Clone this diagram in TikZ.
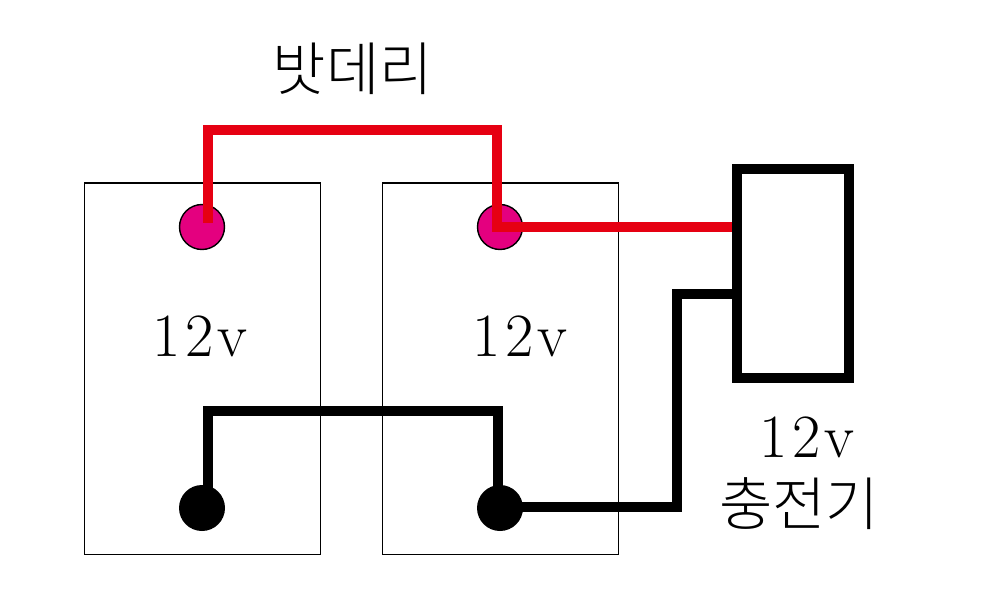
\documentclass[tikz,border=0pt]{standalone}
\usepackage{fontspec}
\usepackage{xcolor}
\newfontfamily\cjk{Noto Sans CJK KR Light}
\newfontfamily\volt[LetterSpace=7]{Latin Modern Roman}
\definecolor{wirered}{RGB}{230,0,18}
\definecolor{postint}{RGB}{228,0,127}
\usetikzlibrary{positioning}
\newlength{\pxu}
\setlength{\pxu}{0.02cm}
\tikzset{cell/.style={draw,line width=0.75pt,minimum width=236\pxu,minimum height=371\pxu,inner sep=0pt},
         posdot/.style={circle,draw,fill=postint,line width=0.8pt,minimum size=45\pxu,inner sep=0pt},
         negdot/.style={circle,fill=black,minimum size=46\pxu,inner sep=0pt},
         redwire/.style={draw=wirered,line width=10\pxu},
         blackwire/.style={draw=black,line width=10\pxu},
         lab/.style={font=\volt\fontsize{35}{35}\selectfont},
         hangul/.style={font=\cjk\fontsize{33}{33}\selectfont}}
\begin{document}
\begin{tikzpicture}[x=0.02cm,y=-0.02cm]
\useasboundingbox (0,0) rectangle (1000,604);
\node[cell,anchor=north west] (left) at (83.5,182.5) {};
\node[cell,anchor=north west] (right) at (381.5,182.5) {};
\node[draw,line width=10\pxu,minimum width=112\pxu,minimum height=209\pxu,inner sep=0pt] (charger) at (793,273.5) {};
\node[posdot] (lp) at (202,227) {};
\node[posdot] (rp) at (500,227) {};
\node[negdot] (ln) at (202,508) {};
\node[negdot] (rn) at (500,508) {};
\coordinate (ltop) at (208,223);
\coordinate (lbot) at (208,508);
\coordinate (ct) at (charger.west |- rp);
\coordinate (cb) at (735,294);
\draw[redwire] (ltop) |- (497,130) -- (497,227) -- (ct);
\draw[blackwire] (lbot) |- (497.5,411) -- (497.5,507) -- (677,507) -- (677,294) -- (cb);
\node[lab] (t1) at (200,336) {12v};
\node[lab] (t2) at (520,336) {12v};
\node[lab] (t3) at (807,437) {12v};
\node[hangul] (t4) at (799,504) {충전기};
\node[hangul] (t5) at (353,69) {밧데리};
\end{tikzpicture}
\end{document}
